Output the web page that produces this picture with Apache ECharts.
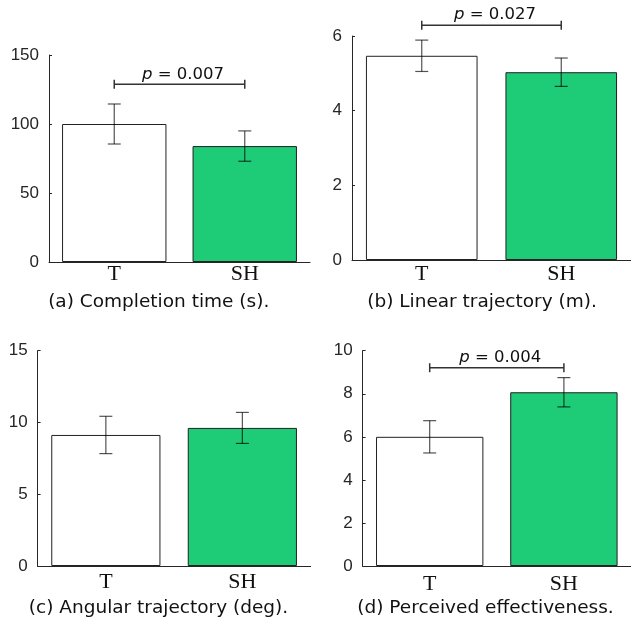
<!DOCTYPE html>
<html>
<head>
<meta charset="utf-8">
<script src="https://cdn.jsdelivr.net/npm/echarts@6/dist/echarts.min.js"></script>
<style>html,body{margin:0;padding:0;background:#fff;}#c{width:631px;height:625px;}</style>
</head>
<body>
<div id="c"></div>
<script>
const categories = ['T', 'SH'];
const meansA = [100, 84];
const errA = [14.5, 11];
const meansB = [5.47, 5.03];
const errB = [0.42, 0.38];
const meansC = [9.13, 9.62];
const errC = [1.3, 1.08];
const meansD = [6.0, 8.07];
const errD = [0.75, 0.68];
const yMaxes = [150, 6, 15, 10];
const yIntervals = [50, 2, 5, 2];
const pValues = ['0.007', '0.027', null, '0.004'];
const bracketLevels = [128.8, 6.29, null, 9.21];
const captions = ['(a) Completion time (s).', '(b) Linear trajectory (m).', '(c) Angular trajectory (deg).', '(d) Perceived effectiveness.'];
const barColors = ['#ffffff', '#1ecb76'];

const panels = [
  {means: meansA, errs: errA},
  {means: meansB, errs: errB},
  {means: meansC, errs: errC},
  {means: meansD, errs: errD}
];
const grids = [
  {left: 49, top: 55, width: 261, height: 207},
  {left: 352, top: 36, width: 281, height: 224},
  {left: 37.6, top: 350.7, width: 273, height: 215.3},
  {left: 362.6, top: 350.7, width: 272.4, height: 215.3}
];
const catMargins = [1, 3, 5, 7];
const captionPos = [[158.7, 302], [482, 302], [158.5, 608], [485.5, 608]];

const axisColor = '#262626';
const option = {
  animation: false,
  grid: grids,
  xAxis: grids.map((g, i) => ({
    type: 'category', gridIndex: i, data: categories,
    axisLine: {lineStyle: {color: axisColor, width: 1}},
    axisTick: {show: false},
    axisLabel: {color: '#111', fontFamily: 'Liberation Serif', fontSize: 22, margin: catMargins[i]},
    splitLine: {show: false}
  })),
  yAxis: grids.map((g, i) => ({
    type: 'value', gridIndex: i, min: 0, max: yMaxes[i], interval: yIntervals[i],
    axisLine: {show: true, lineStyle: {color: axisColor, width: 1}},
    axisTick: {show: true, inside: true, length: 3, lineStyle: {color: axisColor}},
    axisLabel: {color: '#262626', fontFamily: 'Liberation Sans', fontSize: 17, margin: 10},
    splitLine: {show: false}
  })),
  graphic: captions.map((t, i) => ({
    type: 'text', x: captionPos[i][0], y: captionPos[i][1],
    style: {text: t, align: 'center', verticalAlign: 'middle',
      fontFamily: 'DejaVu Sans', fontSize: 18.5, fill: '#111'}
  })),
  series: []
};

panels.forEach((p, i) => {
  option.series.push({
    type: 'bar', xAxisIndex: i, yAxisIndex: i, barWidth: '80%',
    data: p.means.map((v, k) => ({value: v, itemStyle: {color: barColors[k], borderColor: '#222', borderWidth: 1}})),
    z: 2
  });
  option.series.push({
    type: 'custom', xAxisIndex: i, yAxisIndex: i, z: 5,
    data: p.means.map((v, k) => [k, v - p.errs[k], v + p.errs[k]]),
    renderItem: function (params, api) {
      const lo = api.coord([api.value(0), api.value(1)]);
      const hi = api.coord([api.value(0), api.value(2)]);
      const w = 6.5;
      const st = {stroke: 'rgba(0,0,0,0.68)', lineWidth: 1.2};
      return {type: 'group', children: [
        {type: 'line', shape: {x1: hi[0], y1: hi[1], x2: lo[0], y2: lo[1]}, style: st},
        {type: 'line', shape: {x1: hi[0] - w, y1: hi[1], x2: hi[0] + w, y2: hi[1]}, style: st},
        {type: 'line', shape: {x1: lo[0] - w, y1: lo[1], x2: lo[0] + w, y2: lo[1]}, style: st}
      ]};
    }
  });
  if (pValues[i]) {
    option.series.push({
      type: 'custom', xAxisIndex: i, yAxisIndex: i, z: 6, clip: false,
      data: [[0, 1, bracketLevels[i]]],
      renderItem: function (params, api) {
        const a = api.coord([api.value(0), api.value(2)]);
        const b = api.coord([api.value(1), api.value(2)]);
        const st = {stroke: '#333', lineWidth: 1.5};
        const h = 4.5;
        return {type: 'group', children: [
          {type: 'line', shape: {x1: a[0], y1: a[1], x2: b[0], y2: b[1]}, style: st},
          {type: 'line', shape: {x1: a[0], y1: a[1] - h, x2: a[0], y2: a[1] + h}, style: st},
          {type: 'line', shape: {x1: b[0], y1: b[1] - h, x2: b[0], y2: b[1] + h}, style: st},
          {type: 'text', style: {
            text: '{i|p} = ' + pValues[i],
            x: (a[0] + b[0]) / 2 + 3.5, y: a[1] - 10, align: 'center', verticalAlign: 'middle',
            fontFamily: 'DejaVu Sans', fontSize: 16.5, fill: '#111',
            rich: {i: {fontStyle: 'italic', fontFamily: 'DejaVu Sans', fontSize: 16.5, fill: '#111'}}
          }}
        ]};
      }
    });
  }
});

const chart = echarts.init(document.getElementById('c'));
chart.setOption(option);
</script>
</body>
</html>
